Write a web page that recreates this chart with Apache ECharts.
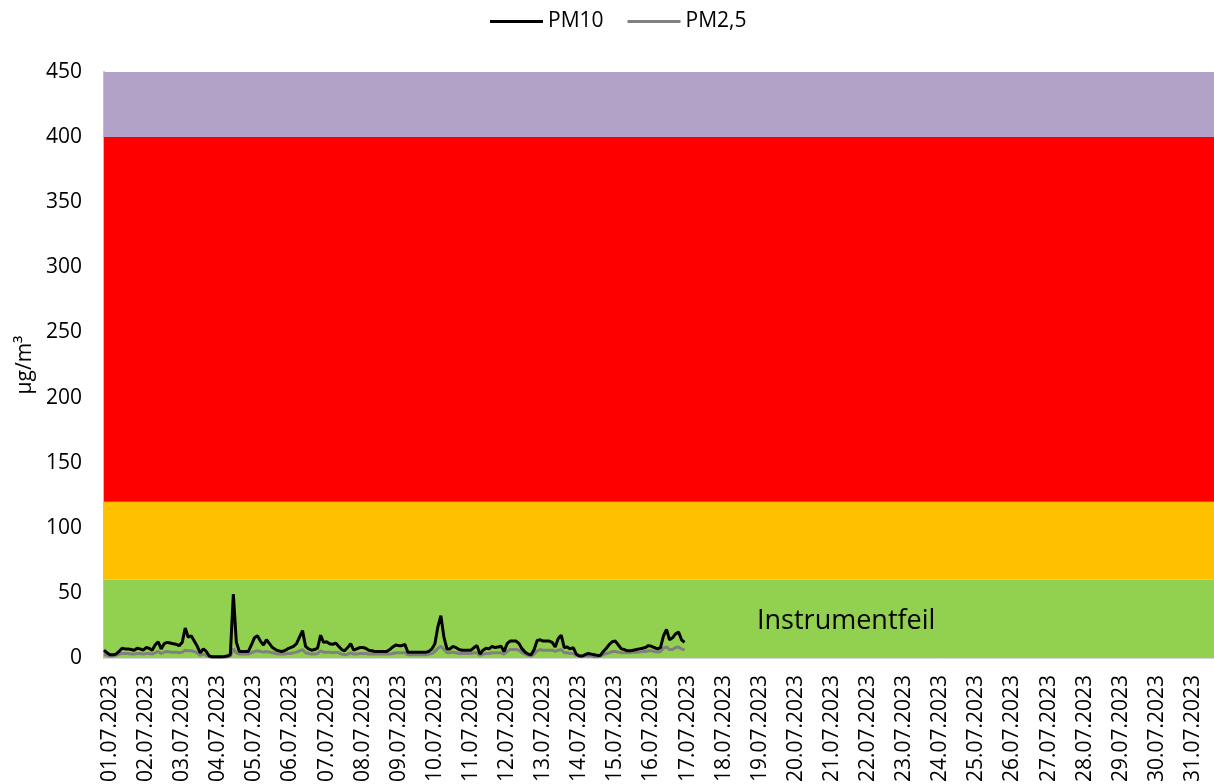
<!DOCTYPE html>
<html>
<head>
<meta charset="utf-8">
<script src="https://cdn.jsdelivr.net/npm/echarts@6/dist/echarts.min.js"></script>
<style>
html,body{margin:0;padding:0;background:#fff;}
#chart{width:1214px;height:784px;}
</style>
</head>
<body>
<div id="chart"></div>
<script>
// Day labels on the x axis
const days = ["01.07.2023","02.07.2023","03.07.2023","04.07.2023","05.07.2023","06.07.2023","07.07.2023","08.07.2023","09.07.2023","10.07.2023","11.07.2023","12.07.2023","13.07.2023","14.07.2023","15.07.2023","16.07.2023","17.07.2023","18.07.2023","19.07.2023","20.07.2023","21.07.2023","22.07.2023","23.07.2023","24.07.2023","25.07.2023","26.07.2023","27.07.2023","28.07.2023","29.07.2023","30.07.2023","31.07.2023"];
const endLabel = "01.08.2023";
// 2-hourly hours of day
const hours = ["00","02","04","06","08","10","12","14","16","18","20","22"];

// PM10, 2-hourly values from 01.07.2023 00:00 (µg/m³)
const pm10 = [
6,4,2.5,2.5,3,5,7.5,7,7,6.5,6,7.5,
7,6,8,7.5,6,10,12.5,7,11,12,11.5,11,
10.5,9.5,12,23,16,17,13,9,4,7,5,1.5,
1,1,1,1,1.2,1.5,2.5,49,12,5,5,5,
5,10,15.5,17,13,10,14,11,8,6.5,5.5,5,
5.5,7,8,9,11,16,21,9,7,6,6.5,7.5,
17.5,12,12.5,11,10.5,11.5,9,6.5,5.5,8,11,6,
7,8,8,7.5,6,5.5,5,5,5,5,5,6.5,
8.5,10,9.5,9.5,10.5,4.5,4.5,4.5,4.5,4.5,4.5,4.5,
5,7,11,24,32.5,16,7,7,9,8,6.5,6,
6,6,6,8,9.5,3,6,7.5,7,9,8,8.5,
9,5,11,13,13,13,11,7,4.5,3,2.5,6.5,
13.5,14,13,13,13,12,8.5,15,17.5,8,8.5,7,
8,3,1.5,1.5,2.5,3.5,3,2.5,2,2,5,7.5,
10.5,12.5,13,10,7,6.5,5.5,5.5,6,6.5,7,7.5,
8,9.5,9,8,7,8,17,22,14,15.5,18.5,20,
14,12
];

// PM2,5, 2-hourly values from 01.07.2023 00:00 (µg/m³)
const pm25 = [
3,2,1.5,1.5,2,3,3.5,3.5,3.5,3,3,3.5,
3.5,3,3.5,3.5,3,4,5,3.5,4.5,5,4.5,4.5,
4.5,4,4.5,6,5.5,5.5,5,4,2,3,2,1,
0.8,0.8,0.8,0.8,0.8,1,1.5,7,4,3,3,3,
3,4,5,5.5,5,4.5,5,4.5,4,3.5,3,3,
3,3.5,3.5,4,4.5,5.5,6.5,4,3.5,3,3,3.5,
5.5,4.5,4.5,4.5,4,4.5,4,3,2.5,3,4,3,
3,3.5,3.5,3.5,3,3,3,3,3,3,3,3,
3.5,4,4,4,4,2.5,2.5,2.5,2.5,2.5,2.5,2.5,
3,3.5,5,7.5,9,6.5,4,4,4.5,4,3.5,3.5,
3.5,3.5,3.5,4,4,2,3,3.5,3.5,4,4,4,
4,3,5,6.5,6.5,6.5,6,4,3,2,1.5,3,
5.5,6.5,6,6,6,6,5,6,6.5,4,4,3.5,
3.5,2,1.5,1.5,1.5,1.5,1.5,1,1,1.5,2.5,3.5,
4,5,5,4.5,4,4,4,4,4.5,4.5,4.5,5,
5,5.5,5.5,5,4.5,5,7.5,8.5,6.5,6.5,8,8.5,
7,6
];

// Background bands (µg/m³)
const bandLimits = [0, 60, 120, 400, 450];
const bandColors = ["#92D050", "#FFC000", "#FF0000", "#B2A2C7"];

// Y axis ticks
const yMin = 0, yMax = 450, yStep = 50;

const categories = [];
days.forEach(d => hours.forEach(h => categories.push(d + " " + h)));
categories.push(endLabel + " 00");

const FONT = "Open Sans";

const bandAreas = bandColors.map((c, i) => [
  { yAxis: bandLimits[i], itemStyle: { color: c, opacity: 1 } },
  { yAxis: bandLimits[i + 1] }
]);

const chart = echarts.init(document.getElementById('chart'), null, { renderer: 'canvas' });
chart.setOption({
  animation: false,
  backgroundColor: '#ffffff',
  textStyle: { fontFamily: FONT, color: '#000' },
  legend: {
    left: 490,
    top: 11,
    padding: 0,
    itemWidth: 53,
    itemHeight: 3,
    itemGap: 24,
    icon: 'rect',
    textStyle: { fontFamily: FONT, fontSize: 21, color: '#000' },
    data: ['PM10', 'PM2,5']
  },
  grid: { left: 104, top: 72, right: -9, bottom: 126, containLabel: false, outerBoundsMode: 'none' },
  xAxis: {
    type: 'category',
    data: categories,
    boundaryGap: false,
    axisLine: { show: true, lineStyle: { color: '#D9D9D9', width: 1 } },
    axisTick: { show: false },
    splitLine: { show: false },
    axisLabel: {
      rotate: 90,
      interval: (idx) => idx % hours.length === 0 && idx < days.length * hours.length,
      formatter: (v) => v.split(' ')[0],
      fontFamily: FONT,
      fontSize: 21,
      color: '#000',
      margin: 17,
      verticalAlign: 'top',
      lineHeight: 12
    }
  },
  yAxis: {
    type: 'value',
    min: yMin,
    max: yMax,
    interval: yStep,
    name: 'µg/m³',
    nameLocation: 'middle',
    nameGap: 68,
    nameTextStyle: { fontFamily: FONT, fontSize: 21, color: '#000' },
    axisLine: { show: true, lineStyle: { color: '#BFBFBF', width: 2 } },
    axisTick: { show: false },
    splitLine: { show: false },
    axisLabel: { fontFamily: FONT, fontSize: 21, color: '#000', margin: 22 }
  },
  series: [
    {
      name: 'bands',
      type: 'line',
      data: [],
      silent: true,
      z: 1,
      markArea: { silent: true, data: bandAreas }
    },
    {
      name: 'PM2,5',
      type: 'line',
      data: pm25,
      symbol: 'none',
      z: 3,
      lineStyle: { color: '#808080', width: 3 },
      itemStyle: { color: '#808080' }
    },
    {
      name: 'PM10',
      type: 'line',
      data: pm10,
      symbol: 'none',
      z: 4,
      lineStyle: { color: '#000000', width: 3 },
      itemStyle: { color: '#000000' }
    }
  ],
  graphic: [
    {
      type: 'text',
      left: 757,
      top: 608,
      z: 10,
      style: { text: 'Instrumentfeil', fontFamily: FONT, fontSize: 27, fill: '#000' }
    }
  ]
});
</script>
</body>
</html>
